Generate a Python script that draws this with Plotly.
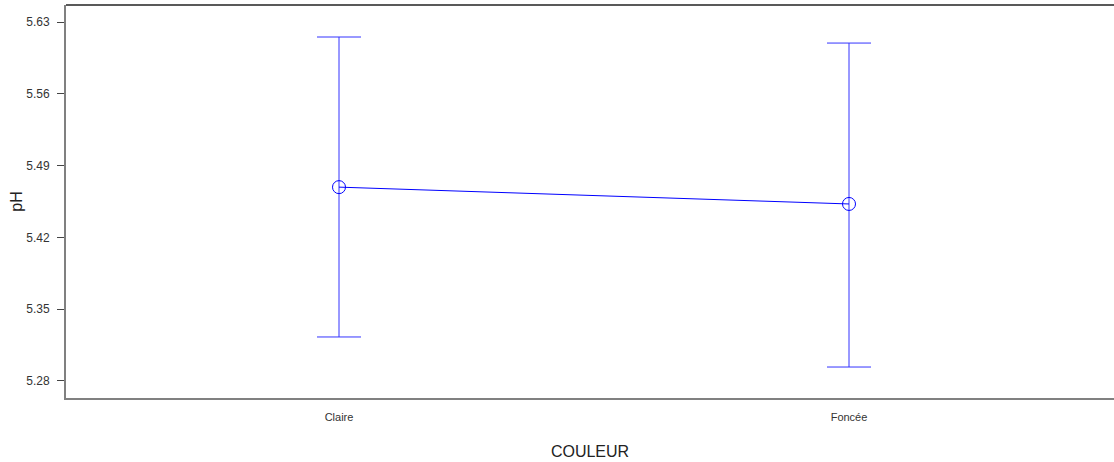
import plotly.graph_objects as go

categories = ["Claire", "Foncée"]
means = [5.469, 5.4526]
upper = [5.6154, 5.6095]
lower = [5.3229, 5.2936]
yticks = [5.28, 5.35, 5.42, 5.49, 5.56, 5.63]

xpos = [1, 2]
err_plus = [u - m for u, m in zip(upper, means)]
err_minus = [m - l for m, l in zip(means, lower)]

fig = go.Figure()
fig.add_trace(go.Scatter(
    x=xpos, y=means, mode="lines+markers",
    line=dict(color="#0000FF", width=1),
    marker=dict(symbol="circle-open", size=13, color="#0000FF", line=dict(width=1, color="#0000FF")),
    error_y=dict(type="data", symmetric=False, array=err_plus, arrayminus=err_minus,
                 color="#3333FF", thickness=1, width=22),
    showlegend=False,
))

fig.add_shape(type="line", xref="paper", yref="paper", x0=0, x1=1, y0=1, y1=1,
              line=dict(color="#222222", width=1.5))

fig.update_layout(
    width=1114, height=462,
    margin=dict(l=66, r=0, t=5, b=64),
    paper_bgcolor="white", plot_bgcolor="white",
    font=dict(family="Liberation Sans, Arial, sans-serif", color="#333333"),
    xaxis=dict(
        range=[1 - 273 / 510, 1 + (1114 - 339) / 510],
        tickmode="array", tickvals=xpos, ticktext=categories,
        ticks="", showgrid=False, zeroline=False,
        showline=True, linecolor="#808080", linewidth=2,
        tickfont=dict(size=11), ticklabelstandoff=8,
        title=dict(text="COULEUR", font=dict(size=16, color="#222222"), standoff=24),
    ),
    yaxis=dict(
        range=[5.2634, 5.6466],
        tickmode="array", tickvals=yticks, ticktext=[f"{v:.2f}" for v in yticks],
        ticks="outside", ticklen=7, tickcolor="#444444",
        showgrid=False, zeroline=False,
        showline=True, linecolor="#808080", linewidth=2,
        tickfont=dict(size=12), ticklabelstandoff=5,
        title=dict(text="pH", font=dict(size=16, color="#222222"), standoff=0),
    ),
)

fig.write_html("out.html", config={"displayModeBar": False},
               post_script="document.body.style.margin='0';document.body.style.overflow='hidden';")
